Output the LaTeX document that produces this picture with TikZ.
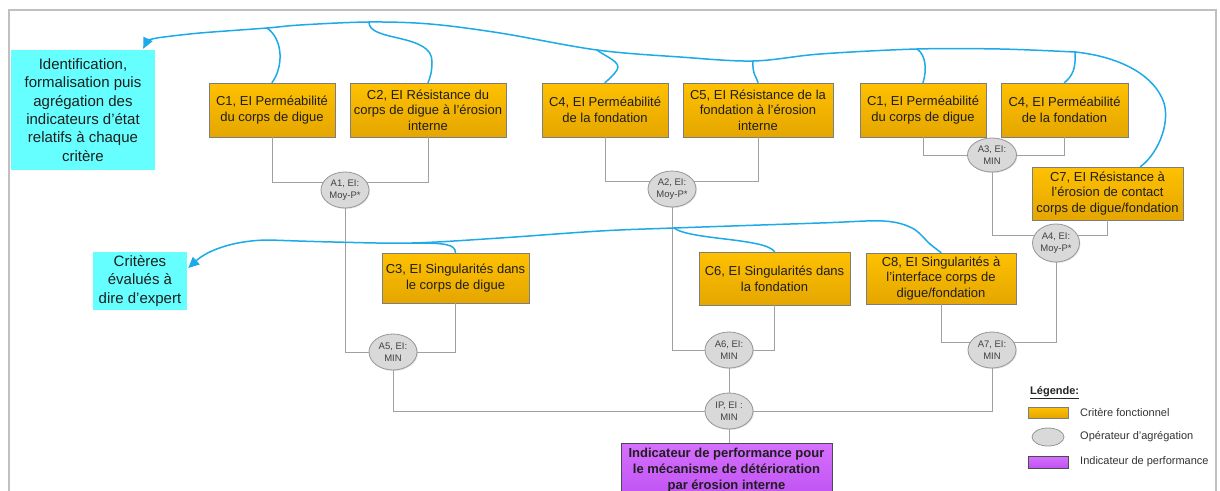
\documentclass[tikz,border=0pt]{standalone}
\usepackage{fontspec}
\setmainfont{Liberation Sans}
\usetikzlibrary{shadows,arrows.meta,calc,shapes.geometric}
\definecolor{orTop}{RGB}{255,193,0}
\definecolor{orBot}{RGB}{228,166,0}
\definecolor{cyanbox}{RGB}{102,255,255}
\definecolor{ellfill}{RGB}{217,217,217}
\definecolor{ellbord}{RGB}{150,150,150}
\definecolor{purTop}{RGB}{214,112,255}
\definecolor{purBot}{RGB}{192,82,242}
\definecolor{bluel}{RGB}{28,170,232}
\definecolor{connc}{RGB}{160,160,160}
\definecolor{frameg}{RGB}{192,192,192}
\definecolor{boxbord}{RGB}{125,125,125}
\definecolor{txt}{RGB}{30,30,30}
\tikzset{
  critbox/.style={draw=boxbord, line width=0.8pt, top color=orTop, bottom color=orBot,
    align=center, inner sep=0pt, text=txt, font=\fontsize{13}{15.7}\selectfont,
    drop shadow={shadow xshift=1.2pt,shadow yshift=-1.2pt,opacity=0.25}},
  notebox/.style={fill=cyanbox, align=center, inner sep=0pt, text=txt,
    font=\fontsize{15}{18.3}\selectfont},
  opell/.style={ellipse, draw=ellbord, line width=0.8pt, fill=ellfill, align=center,
    inner sep=0pt, minimum width=48pt, minimum height=36pt, text=black!75,
    font=\fontsize{9.5}{11.5}\selectfont,
    drop shadow={shadow xshift=1pt,shadow yshift=-1pt,opacity=0.2}},
  perfbox/.style={draw=black!70, line width=0.8pt, top color=purTop, bottom color=purBot,
    align=center, inner sep=0pt, text=txt, font=\bfseries\fontsize{13}{16}\selectfont},
  connl/.style={draw=connc, line width=0.9pt},
  bluec/.style={draw=bluel, line width=1.5pt, line cap=round},
  bluetip/.style={-{Triangle[length=11pt,width=10pt]}},
  legtxt/.style={anchor=west, inner sep=0pt, text=black!80, font=\fontsize{11}{13}\selectfont}
}
\begin{document}
\begin{tikzpicture}[x=1pt,y=-1pt]
\useasboundingbox (0,0) rectangle (1220,490);
\fill[white] (0,0) rectangle (1220,490);
\draw[frameg, line width=1.3pt] (9,500) -- (9,10) -- (1216,10) -- (1216,500);

% notes
\node[notebox, minimum width=144pt, minimum height=120pt] (ident) at (83,110)
  {Identification,\\formalisation puis\\agrégation des\\indicateurs d’état\\relatifs à chaque\\critère};
\node[notebox, minimum width=94pt, minimum height=58pt] (critn) at (140,281)
  {Critères\\évalués à\\dire d’expert};

% criteria
\node[critbox, minimum width=126pt, minimum height=54pt] (c1) at (272,110) {C1, EI Perméabilité\\du corps de digue};
\node[critbox, minimum width=156pt, minimum height=54pt] (c2) at (428,110) {C2, EI Résistance du\\corps de digue à l’érosion\\interne};
\node[critbox, minimum width=126pt, minimum height=54pt] (c4) at (605,110) {C4, EI Perméabilité\\de la fondation};
\node[critbox, minimum width=150pt, minimum height=54pt] (c5) at (758,110) {C5, EI Résistance de la\\fondation à l’érosion\\interne};
\node[critbox, minimum width=126pt, minimum height=54pt] (c1b) at (923,110) {C1, EI Perméabilité\\du corps de digue};
\node[critbox, minimum width=127pt, minimum height=54pt] (c4b) at (1064.5,110) {C4, EI Perméabilité\\de la fondation};
\node[critbox, minimum width=151pt, minimum height=53pt] (c7) at (1107.5,193.5) {C7, EI Résistance à\\l’érosion de contact\\corps de digue/fondation};
\node[critbox, minimum width=147pt, minimum height=50pt] (c3) at (455.5,278) {C3, EI Singularités dans\\le corps de digue};
\node[critbox, minimum width=151pt, minimum height=53pt] (c6) at (774.5,278.5) {C6, EI Singularités dans\\la fondation};
\node[critbox, minimum width=150pt, minimum height=51pt] (c8) at (941,278.5) {C8, EI Singularités à\\l’interface corps de\\digue/fondation};

% operators
\node[opell] (a1) at (345,190) {A1, EI:\\Moy-P*};
\node[opell] (a2) at (672,189) {A2, EI:\\Moy-P*};
\node[opell, minimum width=49pt, minimum height=34pt] (a3) at (992,155) {A3, EI:\\MIN};
\node[opell, minimum width=47pt, minimum height=38pt] (a4) at (1056,243) {A4, EI:\\Moy-P*};
\node[opell] (a5) at (393,352) {A5, EI:\\MIN};
\node[opell] (a6) at (729,350) {A6, EI:\\MIN};
\node[opell] (a7) at (992,350) {A7, EI:\\MIN};
\node[opell] (ip) at (729,411) {IP, EI :\\MIN};

% performance indicator
\node[perfbox, minimum width=211pt, minimum height=54pt] (perf) at (726.5,470)
  {Indicateur de performance pour\\le mécanisme de détérioration\\par érosion interne};

% gray connectors
\draw[connl] (c1.south) |- (a1.162);
\draw[connl] (c2.south) |- (a1.18);
\draw[connl] (a1.south) |- (a5.west);
\draw[connl] (c3.south) |- (a5.east);
\draw[connl] (a5.south) |- (ip.west);
\draw[connl] (c4.south) |- (a2.160);
\draw[connl] (c5.south) |- (a2.20);
\draw[connl] (a2.south) |- (a6.west);
\draw[connl] (c6.south) |- (a6.east);
\draw[connl] (a6.south) -- (ip.north);
\draw[connl] (ip.south) -- (ip.south |- perf.north);
\draw[connl] (c1b.south) |- (a3.west);
\draw[connl] (c4b.south) |- (a3.east);
\draw[connl] (a3.south) |- (a4.160);
\draw[connl] (c7.south) |- (a4.20);
\draw[connl] (a4.south) |- (a7.20);
\draw[connl] (c8.south) |- (a7.160);
\draw[connl] (a7.south) |- (ip.east);

% blue curves: top
\coordinate (k0) at ([xshift=33pt]c7.north);
\coordinate (t1) at (267,28);
\coordinate (t2) at (369,22);
\coordinate (t4) at (597,50);
\coordinate (t5) at (753,61);
\coordinate (t6) at (917,49);
\coordinate (t7) at (1075,52);
\coordinate (tip1) at ([xshift=-12pt,yshift=1pt]ident.north east);
\draw[bluec] (k0) .. controls (1160,152) and (1172,118) .. (1162,98)
  .. controls (1150,72) and (1115,56) .. (t7);
\draw[bluec, bluetip] plot[smooth, tension=0.55] coordinates {
  (t7) (1000,49) (t6) (820,54) (t5) (680,57)
  (t4) (500,33) (430,24) (t2) (300,25) (t1) (200,33) (164,37)}
  .. controls (153,38) and (147,41) .. (tip1);
\draw[bluec] (t1) .. controls (284,40) and (283,68) .. (c1.north);
\draw[bluec] (t2) .. controls (368,42) and (433,33) .. (432,62) .. controls (432,72) and (430,78) .. (c2.north);
\draw[bluec] (t4) .. controls (606,57) and (622,62) .. (617,70) .. controls (614,75) and (608,80) .. (c4.north);
\draw[bluec] (t5) .. controls (752,74) and (757,78) .. (c5.north);
\draw[bluec] (t6) .. controls (926,55) and (927,70) .. (c1b.north);
\draw[bluec] (t7) .. controls (1076,70) and (1072,76) .. (c4b.north);

% blue curves: bottom
\coordinate (b1) at (674,228);
\coordinate (b2) at (412,243);
\coordinate (tip2) at ([yshift=13pt,xshift=1pt]critn.east);
\draw[bluec, bluetip] plot[smooth, tension=0.55] coordinates {
  (c8.north) (930,244) (912,228) (883,221) (820,223) (b1) (600,231) (500,238) (b2) (333,242) (270,240)}
  .. controls (235,240) and (208,250) .. (tip2);
\draw[bluec] (b2) .. controls (445,243) and (455,244) .. (c3.north);
\draw[bluec] (b1) .. controls (690,240) and (765,238) .. (c6.north);

% legend
\node[anchor=west, inner sep=0pt, text=black!85, font=\bfseries\fontsize{11}{13}\selectfont] (legt) at (1030,393) {\underline{Légende:}};
\node[draw=boxbord, line width=0.8pt, top color=orTop, bottom color=orBot, minimum width=40pt, minimum height=11pt, inner sep=0pt] (lg1) at (1048,412.5) {};
\node[ellipse, draw=ellbord, line width=0.8pt, fill=ellfill, minimum width=32pt, minimum height=18pt, inner sep=0pt] (lg2) at (1048,437) {};
\node[draw=black!70, line width=0.8pt, top color=purTop, bottom color=purBot, minimum width=40pt, minimum height=12pt, inner sep=0pt] (lg3) at (1048,462) {};
\node[legtxt] (lt1) at (1080,412) {Critère fonctionnel};
\node[legtxt] (lt2) at (1080,437) {Opérateur d’agrégation};
\node[legtxt] (lt3) at (1080,462) {Indicateur de performance};
\end{tikzpicture}
\end{document}
